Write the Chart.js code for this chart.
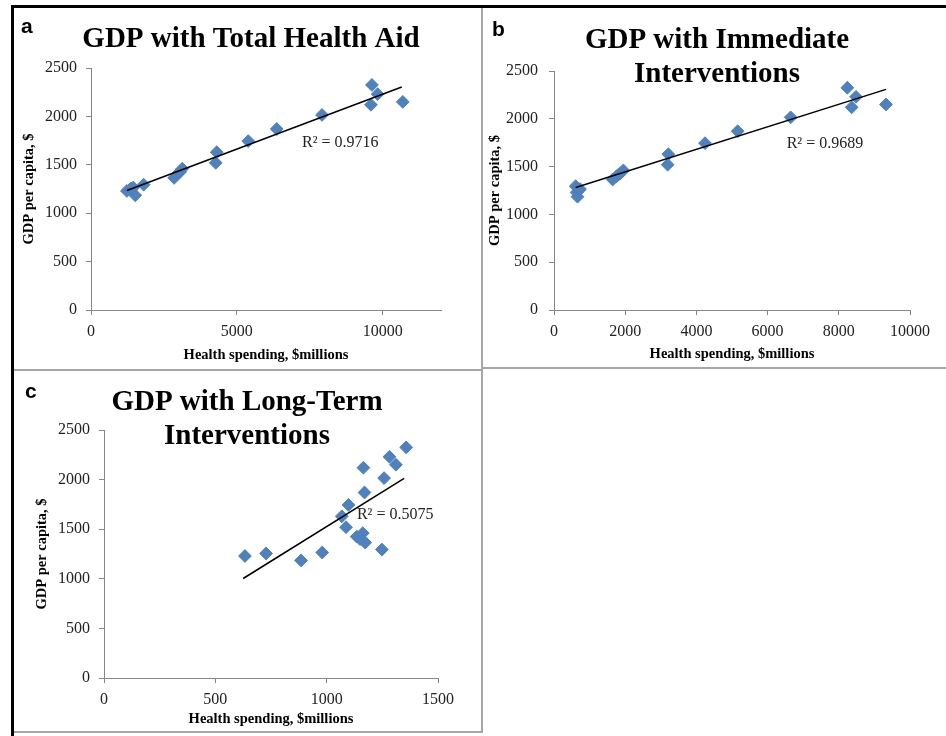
<!DOCTYPE html>
<html>
<head>
<meta charset="utf-8">
<script src="https://cdn.jsdelivr.net/npm/chart.js@4"></script>
<style>
    body { margin: 0; background: #fff; width: 946px; height: 736px; position: relative; overflow: hidden; }
    .line { position: absolute; }
    canvas { position: absolute; }
</style>
</head>
<body>
<div class="line" style="left:11px;top:5px;width:935px;height:3px;background:#000"></div>
<div class="line" style="left:11px;top:5px;width:3px;height:731px;background:#000"></div>
<div class="line" style="left:481px;top:8px;width:2px;height:725px;background:#a6a6a6"></div>
<div class="line" style="left:14px;top:369px;width:467px;height:2px;background:#a6a6a6"></div>
<div class="line" style="left:483px;top:367px;width:463px;height:2px;background:#a6a6a6"></div>
<div class="line" style="left:14px;top:731px;width:469px;height:2px;background:#a6a6a6"></div>

<canvas id="chartA" style="left:14px;top:8px"></canvas>
<canvas id="chartB" style="left:483px;top:8px"></canvas>
<canvas id="chartC" style="left:14px;top:371px"></canvas>

<script>
// GDP per capita ($), same years in each panel
var gdpPerCapita = [1230, 1255, 1185, 1265, 1295, 1365, 1400, 1425, 1460, 1520, 1630, 1745, 1870, 2015, 2120, 2150, 2230, 2325];

// health spending, $millions
var totalAidSpending = [1230, 1368, 1517, 1450, 1805, 2850, 2950, 3050, 3130, 4276, 4310, 5391, 6368, 7920, 9598, 10690, 9828, 9632];
var immediateSpending = [637, 700, 660, 730, 609, 1648, 1760, 1850, 1948, 3193, 3212, 4242, 5159, 6648, 8361, 9326, 8483, 8240];
var longTermSpending = [633, 728, 885, 980, 1248, 1173, 1150, 1135, 1162, 1087, 1068, 1098, 1170, 1258, 1165, 1311, 1282, 1357];

// linear trend lines (end points)
var trendTotalX = [1230, 10655];
var trendTotalY = [1234, 2303];
var trendImmediateX = [609, 9326];
var trendImmediateY = [1281, 2308];
var trendLongTermX = [625, 1348];
var trendLongTermY = [1003, 2012];

// tick labels
var yTicks = [0, 500, 1000, 1500, 2000, 2500];
var xTicksTotal = [0, 5000, 10000];
var xTicksImmediate = [0, 2000, 4000, 6000, 8000, 10000];
var xTicksLongTerm = [0, 500, 1000, 1500];

var rSquared = ["R² = 0.9716", "R² = 0.9689", "R² = 0.5075"];
var panelTitles = [
    ["GDP with Total Health Aid"],
    ["GDP with Immediate", "Interventions"],
    ["GDP with Long-Term", "Interventions"]
];
var panelLetters = ["a", "b", "c"];
var xTitle = "Health spending, $millions";
var yTitle = "GDP per capita, $";

var SERIF = '"Liberation Serif", "Times New Roman", serif';
var BLUE = "#4f81bd";
var AXIS_GREY = "#868686";

function toPoints(xs, ys) {
    var pts = [];
    for (var i = 0; i < xs.length; i++) {
        pts.push({x: xs[i], y: ys[i]});
    }
    return pts;
}

function fixedTicks(values) {
    return function(scale) {
        scale.ticks = values.map(function(v) { return {value: v}; });
    };
}

function plainLabel(value) {
    return String(value);
}

// draws the panel title, the panel letter and the R² label
var panelTextPlugin = {
    id: "panelText",
    afterDraw: function(chart) {
        var o = chart.options.plugins.panelText;
        var ctx = chart.ctx;
        ctx.save();
        ctx.fillStyle = "#000";
        ctx.textAlign = "center";
        ctx.textBaseline = "alphabetic";
        ctx.font = "bold 29px " + SERIF;
        for (var i = 0; i < o.title.length; i++) {
            ctx.fillText(o.title[i], o.titleX, o.titleY + i * 34);
        }
        ctx.textAlign = "left";
        ctx.font = 'bold 21px "Liberation Sans", Arial, sans-serif';
        ctx.fillText(o.letter, o.letterX, o.letterY);

        ctx.font = "16px " + SERIF;
        ctx.fillStyle = "#222";
        ctx.textBaseline = "middle";
        var px = chart.scales.x.getPixelForValue(o.r2At[0]);
        var py = chart.scales.y.getPixelForValue(o.r2At[1]);
        ctx.fillText(o.r2, px, py);
        ctx.restore();
    }
};

function makeChart(id, p) {
    var canvas = document.getElementById(id);
    canvas.width = p.width;
    canvas.height = p.height;
    canvas.style.width = p.width + "px";
    canvas.style.height = p.height + "px";

    return new Chart(canvas, {
        type: "scatter",
        data: {
            datasets: [
                {
                    data: toPoints(p.trendX, p.trendY),
                    showLine: true,
                    borderColor: "#000",
                    borderWidth: 1.5,
                    pointRadius: 0,
                    order: 0
                },
                {
                    data: toPoints(p.xs, gdpPerCapita),
                    pointStyle: "rectRot",
                    pointRadius: 6.4,
                    backgroundColor: BLUE,
                    borderColor: BLUE,
                    borderWidth: 1,
                    order: 1
                }
            ]
        },
        options: {
            responsive: false,
            animation: false,
            layout: {
                padding: {top: p.areaTop, right: p.width - p.areaRight, left: 0, bottom: 0}
            },
            plugins: {
                legend: {display: false},
                tooltip: {enabled: false},
                panelText: {
                    title: p.title, titleX: p.titleX, titleY: p.titleY,
                    letter: p.letter, letterX: p.letterX, letterY: p.letterY,
                    r2: p.r2, r2At: p.r2At
                }
            },
            scales: {
                x: {
                    type: "linear",
                    min: 0,
                    max: p.xMax,
                    afterBuildTicks: fixedTicks(p.xTicks),
                    afterFit: function(scale) { scale.height = p.height - p.areaBottom; },
                    border: {color: AXIS_GREY, width: 1},
                    grid: {drawOnChartArea: false, drawTicks: true, tickLength: 5, color: AXIS_GREY},
                    ticks: {
                        maxRotation: 0,
                        autoSkip: false,
                        padding: 7,
                        color: "#222",
                        callback: plainLabel,
                        font: {family: SERIF, size: 16}
                    },
                    title: {
                        display: true,
                        text: xTitle,
                        color: "#000",
                        padding: {top: 0, bottom: p.xTitlePad},
                        font: {family: SERIF, size: 14.5, weight: "bold"}
                    }
                },
                y: {
                    type: "linear",
                    min: 0,
                    max: 2500,
                    afterBuildTicks: fixedTicks(yTicks),
                    afterFit: function(scale) { scale.width = p.areaLeft; },
                    border: {color: AXIS_GREY, width: 1},
                    grid: {drawOnChartArea: false, drawTicks: true, tickLength: 5, color: AXIS_GREY},
                    ticks: {
                        autoSkip: false,
                        padding: p.yTickPad,
                        color: "#222",
                        callback: plainLabel,
                        font: {family: SERIF, size: 16}
                    },
                    title: {
                        display: true,
                        text: yTitle,
                        color: "#000",
                        padding: {top: p.yTitlePad, bottom: 0},
                        font: {family: SERIF, size: 14.5, weight: "bold"}
                    }
                }
            }
        },
        plugins: [panelTextPlugin]
    });
}

makeChart("chartA", {
    width: 467, height: 361,
    areaLeft: 77, areaRight: 427, areaTop: 60, areaBottom: 302,
    xMax: 12000, xTicks: xTicksTotal, yTickPad: 9, yTitlePad: 7, xTitlePad: 5,
    xs: totalAidSpending, trendX: trendTotalX, trendY: trendTotalY,
    title: panelTitles[0], titleX: 237, titleY: 39,
    letter: panelLetters[0], letterX: 7, letterY: 25,
    r2: rSquared[0], r2At: [7234, 1725]
});

makeChart("chartB", {
    width: 463, height: 359,
    areaLeft: 71, areaRight: 427, areaTop: 63, areaBottom: 302,
    xMax: 10000, xTicks: xTicksImmediate, yTickPad: 11, yTitlePad: 4, xTitlePad: 4,
    xs: immediateSpending, trendX: trendImmediateX, trendY: trendImmediateY,
    title: panelTitles[1], titleX: 234, titleY: 40,
    letter: panelLetters[1], letterX: 9, letterY: 28,
    r2: rSquared[1], r2At: [6536, 1734]
});

makeChart("chartC", {
    width: 467, height: 360,
    areaLeft: 90, areaRight: 424, areaTop: 59, areaBottom: 307,
    xMax: 1500, xTicks: xTicksLongTerm, yTickPad: 9, yTitlePad: 20, xTitlePad: 3,
    xs: longTermSpending, trendX: trendLongTermX, trendY: trendLongTermY,
    title: panelTitles[2], titleX: 233, titleY: 39,
    letter: panelLetters[2], letterX: 11, letterY: 27,
    r2: rSquared[2], r2At: [1136, 1642]
});
</script>
</body>
</html>
